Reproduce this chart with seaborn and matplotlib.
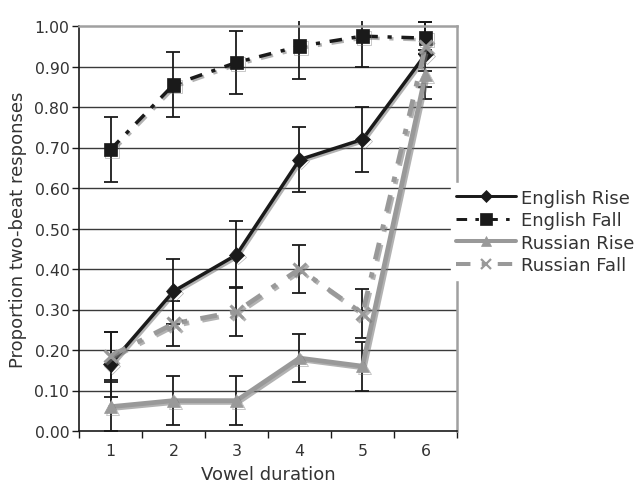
import numpy as np
import pandas as pd
import matplotlib
matplotlib.use("Agg")
import matplotlib.pyplot as plt
import matplotlib.patheffects as pe
from matplotlib.lines import Line2D
from matplotlib.transforms import Bbox, TransformedBbox
import seaborn as sns

# Vowel duration steps
durations = [1, 2, 3, 4, 5, 6]

# Mean proportion of two-beat responses per condition
english_rise = [0.165, 0.345, 0.435, 0.67, 0.72, 0.93]
english_fall = [0.695, 0.855, 0.91, 0.95, 0.975, 0.97]
russian_rise = [0.06, 0.075, 0.075, 0.18, 0.16, 0.88]
russian_fall = [0.185, 0.265, 0.295, 0.40, 0.29, 0.95]

# Error bar half-widths
english_rise_err = [0.08, 0.08, 0.083, 0.08, 0.08, 0.08]
english_fall_err = [0.08, 0.08, 0.078, 0.08, 0.075, 0.04]
russian_rise_err = [0.06, 0.06, 0.06, 0.06, 0.06, 0.06]
russian_fall_err = [0.06, 0.055, 0.06, 0.06, 0.06, 0.06]

series_names = ["English Rise", "English Fall", "Russian Rise", "Russian Fall"]
series_values = [english_rise, english_fall, russian_rise, russian_fall]
series_errors = [english_rise_err, english_fall_err, russian_rise_err, russian_fall_err]

y_ticks = [0.0, 0.1, 0.2, 0.3, 0.4, 0.5, 0.6, 0.7, 0.8, 0.9, 1.0]

BLACK = "#1a1a1a"
GRAY = "#999999"
palette = {"English Rise": BLACK, "English Fall": BLACK,
           "Russian Rise": GRAY, "Russian Fall": GRAY}
markers = {"English Rise": "D", "English Fall": "s",
           "Russian Rise": "^", "Russian Fall": "x"}
dash_dot = (3.6, 2.8, 1.2, 2.8)
dashes = {"English Rise": None, "English Fall": dash_dot,
          "Russian Rise": None, "Russian Fall": dash_dot}
widths = {"English Rise": 2.5, "English Fall": 2.5,
          "Russian Rise": 3.4, "Russian Fall": 3.4}
msizes = {"English Rise": 8, "English Fall": 10,
          "Russian Rise": 9, "Russian Fall": 9}

rows = []
for name, vals in zip(series_names, series_values):
    for d, v in zip(durations, vals):
        rows.append({"duration": d, "value": v, "series": name})
df = pd.DataFrame(rows)

sns.set_style("white")
plt.rcParams["font.family"] = ["DejaVu Sans"]
TEXT = "#333333"

fig = plt.figure(figsize=(6.35, 4.89), dpi=100)
ax = fig.add_axes([79 / 635, 1 - 432 / 489, (457 - 79) / 635, (432 - 27) / 489])

# horizontal gridlines
for yv in y_ticks[1:-1]:
    ax.axhline(yv, color="#3a3a3a", lw=1.0, zorder=0)

shadow = [pe.SimpleLineShadow(offset=(1.3, -1.3), shadow_color="0.45", alpha=0.55),
          pe.Normal()]

# error bars first, lines and markers over them
clip = TransformedBbox(Bbox([[0, -0.05], [1, 1.013]]), ax.transAxes)
for name, vals, errs in zip(series_names, series_values, series_errors):
    cont = ax.errorbar(durations, vals, yerr=errs, fmt="none", ecolor=BLACK,
                       elinewidth=1.3, capsize=4.7, capthick=1.3, zorder=2)
    for art in cont.get_children():
        art.set_clip_box(clip)

for name in series_names:
    sub = df[df["series"] == name]
    n_before = len(ax.get_lines())
    sns.lineplot(data=sub, x="duration", y="value", color=palette[name],
                 marker=markers[name], ax=ax, legend=False, lw=widths[name],
                 markersize=msizes[name],
                 markeredgewidth=2.2 if name == "Russian Fall" else 0.5,
                 markeredgecolor=palette[name], zorder=3)
    for line in ax.get_lines()[n_before:]:
        if dashes[name] is not None:
            line.set_dashes(dashes[name])
        line.set_path_effects(shadow)
        line.set_clip_on(False)

ax.set_xlim(0.5, 6.5)
ax.set_ylim(0, 1.0)

ax.set_xticks(np.arange(0.5, 7.0, 1.0))
ax.set_xticklabels([])
ax.set_xticks(durations, minor=True)
ax.set_xticklabels([str(d) for d in durations], minor=True)
ax.tick_params(axis="x", which="major", direction="out", length=5, width=1,
               color=BLACK, bottom=True)
ax.tick_params(axis="x", which="minor", length=0, pad=9, labelsize=11.3,
               labelcolor=TEXT)
ax.set_yticks(y_ticks)
ax.set_yticklabels([f"{v:.2f}" for v in y_ticks])
ax.tick_params(axis="y", direction="out", length=5, width=1, color=BLACK,
               left=True, labelsize=11.3, labelcolor=TEXT, pad=2)

for side in ["left", "bottom"]:
    ax.spines[side].set_color(BLACK)
    ax.spines[side].set_linewidth(1.2)
for side in ["top", "right"]:
    ax.spines[side].set_color("#a0a0a0")
    ax.spines[side].set_linewidth(1.8)

ax.set_xlabel("Vowel duration", fontsize=13, color=TEXT, labelpad=5)
ax.set_ylabel("Proportion two-beat responses", fontsize=13, color=TEXT, labelpad=5)

handles = []
for n in series_names:
    h = Line2D([], [], color=palette[n], lw=widths[n] * 0.85, marker=markers[n],
               markersize=msizes[n] * 0.8,
               markeredgewidth=1.6 if n == "Russian Fall" else 0.5,
               markeredgecolor=palette[n])
    if dashes[n] is not None:
        h.set_dashes(dashes[n])
    handles.append(h)
leg = fig.legend(handles, series_names, loc="center left",
                 bbox_to_anchor=(451 / 635, 1 - 232.5 / 489), frameon=True,
                 fontsize=13, handlelength=3.3, handletextpad=0.25,
                 labelspacing=0.25, borderpad=0.3, borderaxespad=0)
leg.get_frame().set_facecolor("white")
leg.get_frame().set_edgecolor("white")
leg.get_frame().set_alpha(1)
for t in leg.get_texts():
    t.set_color(TEXT)

fig.savefig("out.png", dpi=100)
